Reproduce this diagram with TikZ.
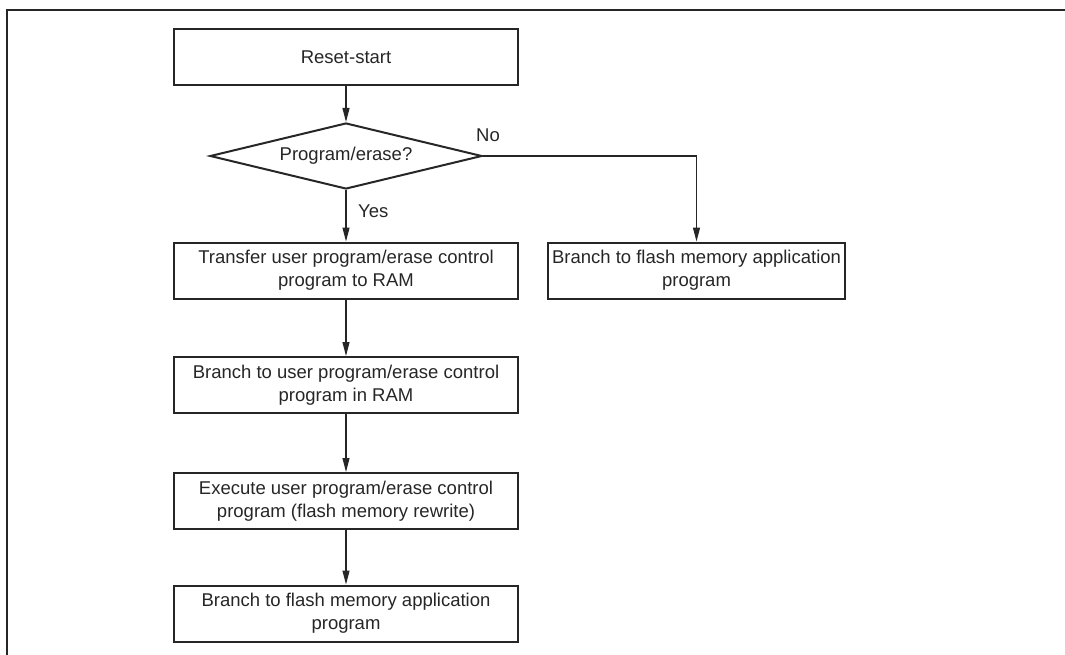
\documentclass[tikz,border=0pt]{standalone}
\usepackage{fontspec}
\setmainfont{Liberation Sans}
\usetikzlibrary{shapes.geometric,arrows.meta}
\definecolor{ink}{HTML}{262626}
\tikzset{
  procbox/.style={draw=ink, line width=2pt, minimum height=56pt, inner sep=0pt, align=center, text=ink, font=\fontsize{18.5}{23}\selectfont},
  decis/.style={diamond, shape aspect=4.12, draw=ink, line width=2pt, minimum width=272pt, minimum height=66pt, inner sep=0pt, text=ink, font=\fontsize{18.5}{23}\selectfont},
  flow/.style={draw=ink, line width=1.2pt, -{Triangle[length=14pt,width=7pt]}},
  lbl/.style={text=ink, font=\fontsize{18.5}{23}\selectfont, inner sep=0pt},
}
\begin{document}
\begin{tikzpicture}[x=1pt,y=-1pt]
\useasboundingbox (0,0) rectangle (1065,655);
\draw[ink, line width=2.5pt] (7,656) -- (7,10) -- (1066,10);
\node[procbox, minimum width=344pt] (reset) at (346,57) {Reset-start};
\node[decis] (dec) at (346,156) {Program/erase?};
\node[procbox, minimum width=344pt] (transfer) at (346,270.5) {Transfer user program/erase control\\program to RAM};
\node[procbox, minimum width=297pt] (appr) at (696.5,270.5) {Branch to flash memory application\\program};
\node[procbox, minimum width=344pt] (branch) at (346,385) {Branch to user program/erase control\\program in RAM};
\node[procbox, minimum width=344pt] (exec) at (346,501) {Execute user program/erase control\\program (flash memory rewrite)};
\node[procbox, minimum width=344pt] (appl) at (346,613.5) {Branch to flash memory application\\program};
\draw[flow] (reset.south) -- (dec.north);
\draw[flow] (dec.south) -- (transfer.north);
\draw[flow] (dec.east) -| (appr.north);
\draw[flow] (transfer.south) -- (branch.north);
\draw[flow] (branch.south) -- (exec.north);
\draw[flow] (exec.south) -- (appl.north);
\node[lbl, anchor=base west] (no) at (476,142) {No};
\node[lbl, anchor=base west] (yes) at (358,218) {Yes};
\end{tikzpicture}
\end{document}
